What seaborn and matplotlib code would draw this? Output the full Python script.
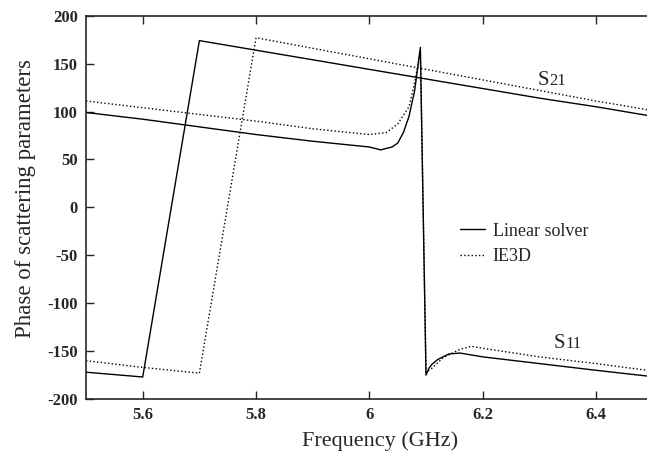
import pandas as pd
import matplotlib
matplotlib.use("Agg")
import matplotlib.pyplot as plt
import seaborn as sns

# S21 phase, linear solver
s21_lin_f = [5.5, 5.6, 5.7, 5.8, 5.9, 6.0, 6.1, 6.2, 6.3, 6.4, 6.49]
s21_lin_p = [-172, -177, 174, 164, 154, 144, 134, 124, 114, 105, 96]

# S21 phase, IE3D
s21_ie_f = [5.5, 5.6, 5.7, 5.8, 5.9, 6.0, 6.1, 6.2, 6.3, 6.4, 6.49]
s21_ie_p = [-160, -167, -173, 177, 166, 155, 144, 133, 122, 111, 102]

# S11 phase, linear solver
s11_lin_f = [5.5, 5.6, 5.7, 5.8, 5.9, 6.0, 6.02, 6.04, 6.05, 6.06, 6.07, 6.08, 6.09,
             6.1, 6.105, 6.11, 6.12, 6.14, 6.16, 6.2, 6.3, 6.4, 6.49]
s11_lin_p = [99, 92, 84, 76, 69, 63, 60, 63, 67, 78, 95, 122, 167,
             -175, -168, -164, -159, -153, -152, -156, -163, -170, -176]

# S11 phase, IE3D
s11_ie_f = [5.5, 5.6, 5.7, 5.8, 5.9, 6.0, 6.03, 6.05, 6.07, 6.08, 6.09,
            6.1, 6.11, 6.13, 6.16, 6.18, 6.2, 6.3, 6.4, 6.49]
s11_ie_p = [111, 104, 97, 90, 82, 76, 78, 87, 105, 130, 163,
            -172, -168, -157, -148, -145, -147, -156, -163, -170]

sns.set_style("ticks")
plt.rcParams['font.family'] = ['Liberation Serif', 'DejaVu Serif']
plt.rcParams['axes.unicode_minus'] = False

fig = plt.figure(figsize=(6.47, 4.55), dpi=100)
ax = fig.add_axes([0.133, 0.123, 0.867, 0.8425])

sns.lineplot(x=s21_lin_f, y=s21_lin_p, ax=ax, color='black', lw=1.0,
             label='Linear solver', sort=False)
sns.lineplot(x=s21_ie_f, y=s21_ie_p, ax=ax, color='black', lw=1.0,
             linestyle=':', label='IE3D', sort=False)
sns.lineplot(x=s11_lin_f, y=s11_lin_p, ax=ax, color='black', lw=1.0, sort=False)
sns.lineplot(x=s11_ie_f, y=s11_ie_p, ax=ax, color='black', lw=1.0,
             linestyle=':', sort=False)

ax.set_xlim(5.5, 6.49)
ax.set_ylim(-200, 200)
ax.set_xticks([5.6, 5.8, 6.0, 6.2, 6.4])
ax.set_xticklabels(['5.6', '5.8', '6', '6.2', '6.4'])
ax.set_yticks(range(-200, 201, 50))
ax.tick_params(direction='in', length=6, width=1, top=True, right=False,
               labelsize=12, pad=6)
for lbl in ax.get_xticklabels() + ax.get_yticklabels():
    lbl.set_fontweight('bold')
ax.spines['right'].set_visible(False)
for sp in ['left', 'bottom', 'top']:
    ax.spines[sp].set_linewidth(1.2)

ax.set_xlabel('Frequency (GHz)', fontsize=16)
ax.set_ylabel('Phase of scattering parameters', fontsize=16.5)
ax.xaxis.set_label_coords(0.524, -0.085)
ax.yaxis.set_label_coords(-0.089, 0.522)

# curve labels
ax.text(6.297, 128, 'S', fontsize=15, ha='left', va='baseline')
ax.annotate('21', xy=(6.297, 128), xytext=(8.3, 0), textcoords='offset points',
            fontsize=12, ha='left', va='baseline')
ax.text(6.325, -147, 'S', fontsize=15, ha='left', va='baseline')
ax.annotate('11', xy=(6.325, -147), xytext=(8.3, 0), textcoords='offset points',
            fontsize=12, ha='left', va='baseline')

ax.legend(loc='center left', bbox_to_anchor=(0.638, 0.405), frameon=False,
          fontsize=13, handlelength=1.35, handletextpad=0.45, labelspacing=0.45)

fig.savefig('out.png', dpi=100)
